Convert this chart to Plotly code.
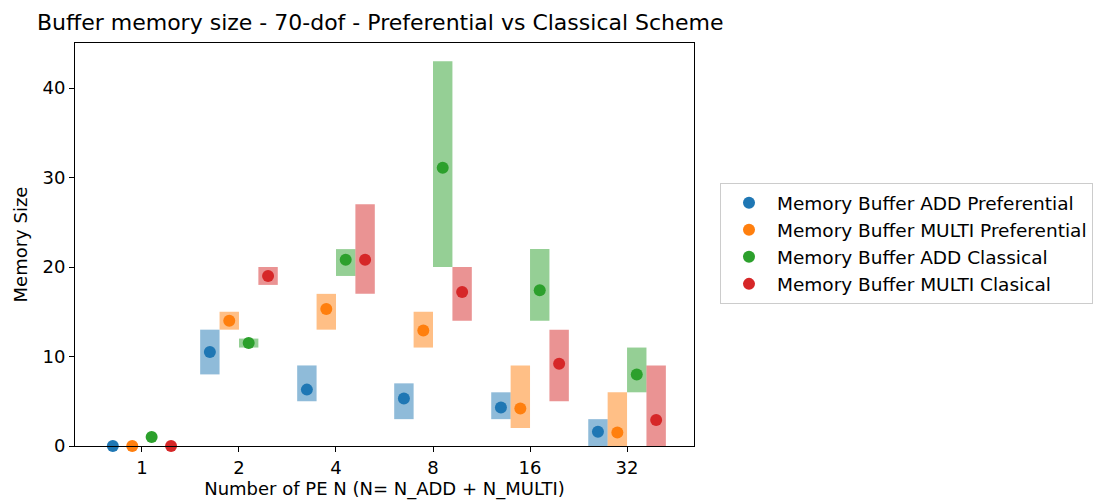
import plotly.graph_objects as go

categories = ["1", "2", "4", "8", "16", "32"]
series_names = ["Memory Buffer ADD Preferential", "Memory Buffer MULTI Preferential",
                "Memory Buffer ADD Classical", "Memory Buffer MULTI Clasical"]

add_pref_mean = [0, 10.5, 6.3, 5.3, 4.3, 1.6]
add_pref_min = [0, 8, 5, 3, 3, 0]
add_pref_max = [0, 13, 9, 7, 6, 3]

multi_pref_mean = [0, 14.0, 15.3, 12.9, 4.2, 1.5]
multi_pref_min = [0, 13, 13, 11, 2, 0]
multi_pref_max = [0, 15, 17, 15, 9, 6]

add_cls_mean = [1.0, 11.5, 20.8, 31.1, 17.4, 8.0]
add_cls_min = [1, 11, 19, 20, 14, 6]
add_cls_max = [1, 12, 22, 43, 22, 11]

multi_cls_mean = [0, 19.0, 20.8, 17.2, 9.2, 2.9]
multi_cls_min = [0, 18, 17, 14, 5, 0]
multi_cls_max = [0, 20, 27, 20, 13, 9]

means = [add_pref_mean, multi_pref_mean, add_cls_mean, multi_cls_mean]
mins = [add_pref_min, multi_pref_min, add_cls_min, multi_cls_min]
maxs = [add_pref_max, multi_pref_max, add_cls_max, multi_cls_max]

colors = ["#1f77b4", "#ff7f0e", "#2ca02c", "#d62728"]
fills = ["rgba(31,119,180,0.5)", "rgba(255,127,14,0.5)",
         "rgba(44,160,44,0.5)", "rgba(214,39,40,0.5)"]
offsets = [-0.3, -0.1, 0.1, 0.3]

fig = go.Figure()
idx = list(range(len(categories)))
for k in range(4):
    xs = [i + offsets[k] for i in idx]
    fig.add_trace(go.Bar(
        x=xs, y=[mx - mn for mx, mn in zip(maxs[k], mins[k])], base=mins[k],
        width=0.2, marker=dict(color=fills[k], line=dict(width=0)),
        showlegend=False, hoverinfo="skip"))
for k in range(4):
    xs = [i + offsets[k] for i in idx]
    fig.add_trace(go.Scatter(
        x=xs, y=means[k], mode="markers", name=series_names[k],
        marker=dict(color=colors[k], size=12, line=dict(width=0)),
        cliponaxis=False))

fig.update_layout(
    width=1093, height=504,
    margin=dict(l=75, r=399, t=43, b=58, autoexpand=False),
    paper_bgcolor="white", plot_bgcolor="white",
    barmode="overlay",
    font=dict(family="DejaVu Sans", size=18, color="black"),
    title=dict(text="Buffer memory size - 70-dof - Preferential vs Classical Scheme",
               x=37 / 1093, xanchor="left", y=1 - 22 / 504, yanchor="middle",
               font=dict(size=22)),
    showlegend=True,
    legend=dict(x=1.042, y=0.502, xanchor="left", yanchor="middle",
                bordercolor="#cccccc", borderwidth=1, font=dict(size=18.5),
                itemsizing="constant", itemwidth=46, tracegroupgap=0),
)
fig.update_xaxes(
    range=[-0.69, 5.69], tickmode="array", tickvals=idx, ticktext=categories,
    showline=True, linecolor="black", linewidth=1, mirror=True,
    ticks="outside", ticklen=5, tickcolor="black", showgrid=False, zeroline=False,
    title=dict(text="Number of PE N (N= N_ADD + N_MULTI)", font=dict(size=18), standoff=4),
)
fig.update_yaxes(
    range=[0, 45.03], tickmode="array", tickvals=[0, 10, 20, 30, 40],
    showline=True, linecolor="black", linewidth=1, mirror=True,
    ticks="outside", ticklen=5, tickcolor="black", showgrid=False, zeroline=False,
    title=dict(text="Memory Size", font=dict(size=18), standoff=10),
)
fig.write_html("out.html")
